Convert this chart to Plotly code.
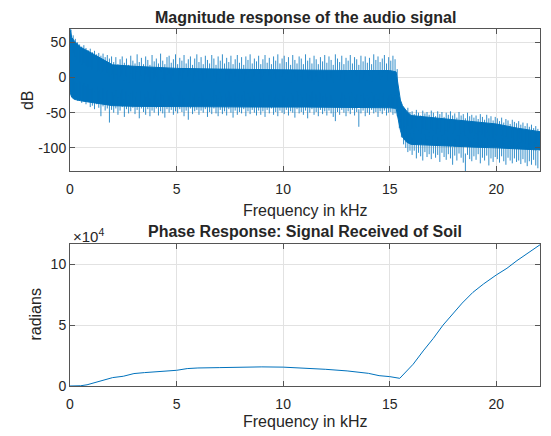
import plotly.graph_objects as go

# ---------------- data ----------------
# Magnitude response: solid body of the noisy spectrum (kHz, dB)
band_freq = [0, 0.08, 0.2, 0.5, 1.0, 1.5, 2.0, 3.0, 4.0, 5.0, 7.0, 9.0, 11.0, 13.0, 15.0,
             15.3, 15.4, 15.5, 15.6, 15.8, 16.0, 17.0, 18.0, 19.0, 20.0, 21.0, 22.05]
band_top = [69, 57, 52, 43, 35, 26, 18, 16, 14, 13, 12, 11, 11, 10, 10,
            8, -12, -32, -40, -48, -54, -57, -60, -63, -66, -72, -77]
band_bot = [-21, -28, -31, -33, -35, -38, -40, -41, -42, -42, -42, -42, -42, -42, -43,
            -44, -58, -75, -85, -92, -95, -97, -98, -99, -100, -101, -103]

# Spike frequencies (kHz, every 0.1 kHz from 0.05) and spike tips (dB)
spike_freq = [round(0.05 + 0.1 * k, 2) for k in range(220)]
upper_tips = [
    68, 60, 55, 50, 47, 44, 46, 42, 39, 41,
    36, 38, 33, 35, 31, 34, 29, 32, 27, 30,
    22, 29, 19, 26, 30, 21, 27, 18, 31, 24,
    20, 33, 22, 28, 19, 30, 25, 18, 32, 23,
    27, 20, 34, 24, 19, 29, 31, 21, 26, 33,
    19, 28, 24, 32, 20, 26, 30, 18, 27, 33,
    22, 29, 19, 31, 25, 20, 32, 27, 18, 30,
    24, 33, 20, 28, 22, 31, 19, 26, 32, 21,
    29, 18, 30, 25, 33, 20, 27, 23, 31, 19,
    26, 32, 21, 28, 19, 30, 24, 33, 20, 27,
    31, 22, 29, 18, 32, 25, 20, 30, 27, 19,
    33, 24, 28, 20, 31, 26, 19, 29, 23, 32,
    21, 30, 25, 18, 33, 27, 22, 31, 19, 28,
    24, 32, 20, 29, 26, 18, 31, 23, 30, 21,
    28, 19, 33, 25, 30, 22, 27, 32, 20, 29,
    24, 31, 26, 12, -28, -38, -44, -47, -43, -49,
    -48, -52, -46, -50, -54, -47, -51, -49, -53, -47,
    -50, -55, -48, -52, -49, -56, -50, -53, -48, -54,
    -51, -57, -49, -54, -52, -58, -50, -55, -53, -57,
    -54, -59, -52, -56, -60, -53, -58, -55, -61, -56,
    -58, -62, -57, -64, -59, -61, -66, -60, -63, -65,
    -62, -67, -64, -69, -65, -70, -67, -72, -69, -73]
lower_tips = [
    -22, -27, -30, -33, -31, -36, -34, -38, -35, -42,
    -40, -45, -38, -43, -55, -41, -47, -44, -64, -46,
    -50, -44, -53, -47, -42, -56, -45, -51, -48, -43,
    -52, -46, -58, -44, -49, -53, -45, -55, -47, -50,
    -44, -54, -48, -51, -57, -45, -50, -46, -53, -48,
    -51, -45, -49, -55, -47, -60, -44, -52, -48, -46,
    -53, -47, -50, -45, -56, -49, -52, -44, -51, -55,
    -46, -52, -48, -54, -45, -50, -57, -47, -53, -49,
    -51, -45, -55, -48, -52, -46, -50, -54, -47, -53,
    -48, -56, -46, -51, -44, -53, -49, -55, -47, -50,
    -52, -46, -54, -48, -50, -57, -45, -51, -49, -53,
    -47, -58, -50, -45, -53, -49, -55, -46, -52, -48,
    -54, -47, -51, -56, -62, -49, -53, -46, -50, -55,
    -48, -52, -46, -54, -49, -70, -51, -47, -55, -50,
    -53, -46, -51, -49, -56, -48, -52, -47, -54, -50,
    -49, -53, -51, -55, -72, -85, -95, -100, -106, -104,
    -110, -104, -115, -107, -112, -118, -106, -113, -109, -116,
    -108, -114, -110, -120, -107, -113, -117, -109, -115, -124,
    -111, -118, -108, -114, -121, -133, -110, -116, -119, -112,
    -117, -109, -122, -114, -118, -111, -125, -115, -120, -113,
    -116, -121, -112, -119, -124, -114, -118, -122, -115, -120,
    -118, -123, -116, -121, -126, -119, -124, -117, -125, -129]

# Phase response (kHz, radians)
phase_freq = [0, 0.5, 0.8, 1.0, 1.5, 2.0, 2.5, 3.0, 3.5, 4.0, 4.5, 5.0, 5.5, 6.0, 7.0,
              8.0, 9.0, 10.0, 11.0, 12.0, 13.0, 14.0, 14.5, 15.0, 15.47, 16.1, 16.57,
              17.04, 17.5, 17.97, 18.4, 18.9, 19.4, 20.0, 20.5, 20.97, 21.45, 22.05]
phase_rad = [0, 200, 1000, 2000, 4100, 6900, 8000, 10200, 11000, 11500, 12000, 12900,
             14300, 14800, 15100, 15500, 15700, 15500, 14700, 13700, 12400, 10400, 8500,
             7700, 6300, 17900, 28800, 39000, 50000, 59900, 68100, 76900, 83800, 91200,
             96700, 103000, 108500, 116000]

x_ticks = [0, 5, 10, 15, 20]
mag_ticks = [-100, -50, 0, 50]
mag_ticktext = ['-100', '-50', '0', '50']
phase_ticks = [0, 50000, 100000]
phase_ticktext = ['0', '5', '10']

# ---------------- figure ----------------
BLUE = '#0072BD'
fig = go.Figure()

poly_x = list(band_freq) + list(band_freq[::-1])
poly_y = list(band_top) + list(band_bot[::-1])
fig.add_trace(go.Scatter(x=poly_x, y=poly_y, fill='toself', fillcolor=BLUE, mode='lines',
                         line=dict(color=BLUE, width=1), hoverinfo='skip', showlegend=False,
                         xaxis='x', yaxis='y'))

sx, sy = [], []
for f, t in zip(spike_freq, upper_tips):
    sx += [f, f, None]
    sy += [t, t - 25, None]
for f, t in zip(spike_freq, lower_tips):
    sx += [f, f, None]
    sy += [t, t + 25, None]
fig.add_trace(go.Scatter(x=sx, y=sy, mode='lines', line=dict(color=BLUE, width=0.8),
                         hoverinfo='skip', showlegend=False, xaxis='x', yaxis='y'))

fig.add_trace(go.Scatter(x=phase_freq, y=phase_rad, mode='lines',
                         line=dict(color=BLUE, width=1), showlegend=False,
                         xaxis='x2', yaxis='y2'))

FONT = 'Liberation Sans, Arial, sans-serif'
TXT = '#262626'
axis_common = dict(showline=True, linecolor='#555555', linewidth=1, mirror='ticks',
                   ticks='inside', ticklen=5, tickcolor='#555555', showgrid=True,
                   gridcolor='#e2e2e2', gridwidth=1, zeroline=False,
                   tickfont=dict(family=FONT, size=14, color=TXT))

# the page body adds an 8px offset, so the figure is 8px smaller on each axis
fig.update_layout(
    width=543, height=428,
    margin=dict(l=62, r=11, t=21, b=50),
    paper_bgcolor='white', plot_bgcolor='white',
    font=dict(family=FONT, color=TXT),
    xaxis=dict(domain=[0, 1], range=[0, 22.05], anchor='y', tickvals=x_ticks,
               ticklabelstandoff=5, **axis_common),
    yaxis=dict(domain=[0.602, 1], range=[-133, 69], anchor='x', tickvals=mag_ticks,
               ticktext=mag_ticktext, **axis_common),
    xaxis2=dict(domain=[0, 1], range=[0, 22.05], anchor='y2', tickvals=x_ticks,
                ticklabelstandoff=5, **axis_common),
    yaxis2=dict(domain=[0, 0.399], range=[0, 117000], anchor='x2', tickvals=phase_ticks,
                ticktext=phase_ticktext, **axis_common),
)

ann = [
    dict(text='<b>Magnitude response of the audio signal</b>', x=0.5, y=1.0335,
         font=dict(size=16)),
    dict(text='<b>Phase Response: Signal Received of Soil</b>', x=0.5, y=0.433,
         font=dict(size=16)),
    dict(text='Frequency in kHz', x=0.5, y=0.4916, font=dict(size=16)),
    dict(text='Frequency in kHz', x=0.5, y=-0.1006, font=dict(size=16)),
    dict(text='dB', x=0, xshift=-43, y=0.801, textangle=-90, font=dict(size=16)),
    dict(text='radians', x=0, xshift=-34, y=0.2, textangle=-90, font=dict(size=16)),
    dict(text='\u00d710<sup>4</sup>', x=0, xanchor='left', xshift=1, y=0.4218,
         font=dict(size=15)),
]
for a in ann:
    a.setdefault('xanchor', 'center')
    a.update(xref='paper', yref='paper', yanchor='middle', showarrow=False)
    a['font'] = dict(family=FONT, color=TXT, **a['font'])
fig.update_layout(annotations=ann)

fig.write_html('out.html')
